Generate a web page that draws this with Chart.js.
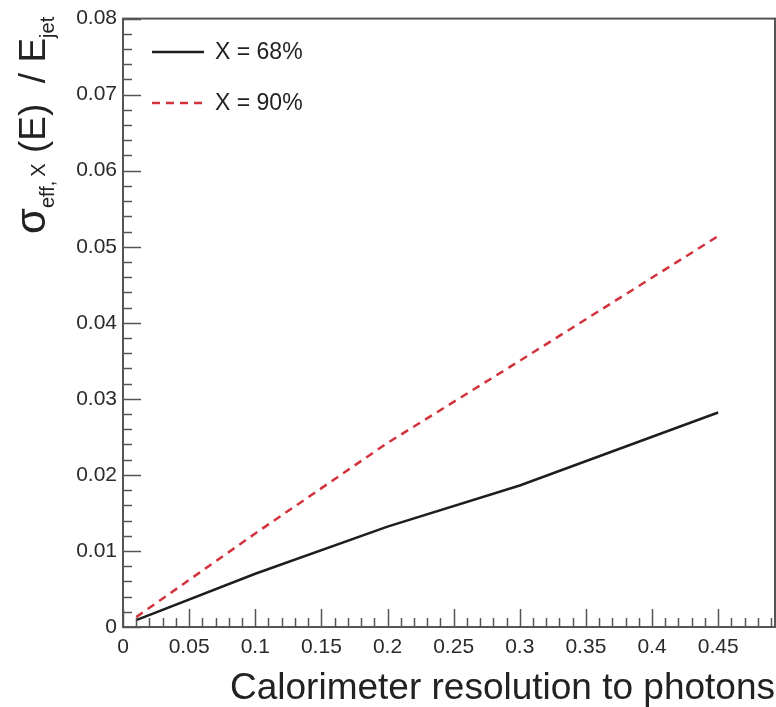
<!DOCTYPE html>
<html>
<head>
<meta charset="utf-8">
<script src="https://cdn.jsdelivr.net/npm/chart.js@4/dist/chart.umd.min.js"></script>
<style>
    html, body { margin: 0; padding: 0; background: #fff; }
    #wrap { width: 776px; height: 707px; }
</style>
</head>
<body>
<div id="wrap"><canvas id="resChart" width="776" height="707"></canvas></div>
<script>
// calorimeter resolution to photons (x) and effective jet energy resolution
const resolution = [0.01, 0.1, 0.2, 0.3, 0.45];
const sigma68 = [0.0009, 0.0070, 0.0132, 0.0186, 0.0282];
const sigma90 = [0.0013, 0.0123, 0.0242, 0.0350, 0.0514];
const seriesLabels = ['X = 68%', 'X = 90%'];
const xTickValues = [0, 0.05, 0.1, 0.15, 0.2, 0.25, 0.3, 0.35, 0.4, 0.45];
const yTickValues = [0, 0.01, 0.02, 0.03, 0.04, 0.05, 0.06, 0.07, 0.08];
const xTitle = 'Calorimeter resolution to photons';

const FONT = '"Liberation Sans", Arial, Helvetica, sans-serif';

function toPoints(values) {
    return resolution.map((x, i) => ({ x: x, y: values[i] }));
}

// ROOT style frame, inward ticks, legend and titles
const rootStyle = {
    id: 'rootStyle',
    afterDraw(chart) {
        const ctx = chart.ctx;
        const area = chart.chartArea;
        const xs = chart.scales.x;
        const ys = chart.scales.y;

        ctx.save();
        ctx.strokeStyle = '#555';
        ctx.lineWidth = 1.5;
        ctx.beginPath();
        // x ticks every 0.01, major every 0.05
        for (let i = 0; i <= 49; i++) {
            const px = Math.round(xs.getPixelForValue(i / 100)) + 0.5;
            const len = i % 5 === 0 ? 18 : 9;
            ctx.moveTo(px, area.bottom);
            ctx.lineTo(px, area.bottom - len);
        }
        // y ticks every 0.002, major every 0.01
        for (let i = 0; i <= 40; i++) {
            const py = Math.round(ys.getPixelForValue(i * 0.002)) + 0.5;
            const len = i % 5 === 0 ? 18 : 9;
            ctx.moveTo(area.left, py);
            ctx.lineTo(area.left + len, py);
        }
        ctx.stroke();
        ctx.lineWidth = 2;
        ctx.strokeRect(area.left, area.top, area.right - area.left, area.bottom - area.top);

        // legend
        const rows = [52, 103];
        chart.data.datasets.forEach((ds, i) => {
            ctx.strokeStyle = ds.borderColor;
            ctx.lineWidth = ds.borderWidth;
            ctx.setLineDash(ds.borderDash || []);
            ctx.beginPath();
            ctx.moveTo(152, rows[i]);
            ctx.lineTo(204, rows[i]);
            ctx.stroke();
            ctx.setLineDash([]);
            ctx.fillStyle = '#222';
            ctx.font = '23px ' + FONT;
            ctx.textBaseline = 'middle';
            ctx.textAlign = 'left';
            ctx.fillText(ds.label, 215, rows[i] + 1);
        });

        // x title
        ctx.fillStyle = '#222';
        ctx.font = '37px ' + FONT;
        ctx.textAlign = 'right';
        ctx.textBaseline = 'alphabetic';
        ctx.fillText(xTitle, 775, 699);

        // y title: sigma_{eff, X} (E) / E_{jet}, rotated
        ctx.translate(45, 234);
        ctx.rotate(-Math.PI / 2);
        ctx.textAlign = 'left';
        let pos = 0;
        const part = (text, size, shift) => {
            ctx.font = size + 'px ' + FONT;
            ctx.fillText(text, pos, shift);
            pos += ctx.measureText(text).width;
        };
        part('\u03c3', 42, 0);
        part('eff,', 20, 9);
        pos += 4;
        part('X', 20, 0);
        part(' (E)  / E', 37, 0);
        part('jet', 20, 9);
        ctx.restore();
    }
};

new Chart(document.getElementById('resChart'), {
    type: 'line',
    data: {
        datasets: [
            {
                label: seriesLabels[0],
                data: toPoints(sigma68),
                borderColor: '#1e1e1e',
                borderWidth: 2.5,
                pointRadius: 0,
                tension: 0
            },
            {
                label: seriesLabels[1],
                data: toPoints(sigma90),
                borderColor: '#d2323c',
                borderWidth: 2.5,
                borderDash: [8, 6],
                pointRadius: 0,
                tension: 0
            }
        ]
    },
    options: {
        responsive: false,
        animation: false,
        layout: { padding: { top: 9, right: 1, left: 0, bottom: 0 } },
        plugins: {
            legend: { display: false },
            tooltip: { enabled: false }
        },
        scales: {
            x: {
                type: 'linear',
                min: 0,
                max: 0.493,
                grid: { display: false, drawTicks: false },
                border: { display: false },
                afterBuildTicks(scale) { scale.ticks = xTickValues.map(v => ({ value: v })); },
                afterFit(scale) { scale.height = 80; },
                ticks: {
                    padding: 8,
                    color: '#2a2a2a',
                    font: { size: 21, family: FONT },
                    maxRotation: 0,
                    autoSkip: false,
                    callback: v => String(+v.toFixed(3))
                }
            },
            y: {
                type: 'linear',
                min: 0,
                max: 0.08,
                grid: { display: false, drawTicks: false },
                border: { display: false },
                afterBuildTicks(scale) { scale.ticks = yTickValues.map(v => ({ value: v })); },
                afterFit(scale) { scale.width = 123; },
                ticks: {
                    padding: 6,
                    color: '#2a2a2a',
                    font: { size: 21, family: FONT },
                    autoSkip: false,
                    callback: v => String(+v.toFixed(3))
                }
            }
        }
    },
    plugins: [rootStyle]
});
</script>
</body>
</html>
